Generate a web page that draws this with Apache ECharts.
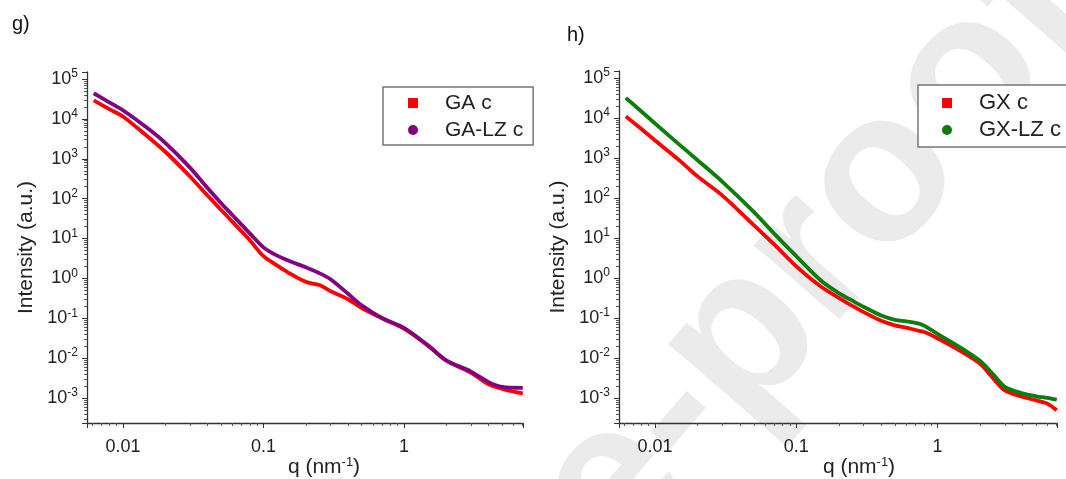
<!DOCTYPE html>
<html>
<head>
<meta charset="utf-8">
<script src="https://cdn.jsdelivr.net/npm/echarts@6/dist/echarts.min.js"></script>
<style>
  html, body { margin: 0; padding: 0; background: #fff; }
  #chart { width: 1066px; height: 479px; }
</style>
</head>
<body>
<div id="chart"></div>
<script>
// panel g) : q (nm^-1) and intensity
const qGA = [0.0062, 0.008, 0.01, 0.015, 0.02, 0.03, 0.04, 0.05, 0.06, 0.07, 0.08, 0.1, 0.12, 0.15, 0.2, 0.25, 0.3, 0.4, 0.5, 0.7, 1, 1.5, 2, 3, 4, 5, 7]
const iGA = [2.9e4, 1.76e4, 1.15e4, 3.6e3, 1.5e3, 360, 120, 52, 26.5, 15, 9, 3.6, 2.3, 1.4, 0.82, 0.68, 0.48, 0.3, 0.18, 0.1, 0.055, 0.02, 0.0086, 0.0043, 0.0022, 0.0017, 0.0013]
const iGALZ = [4.4e4, 2.6e4, 1.65e4, 5.8e3, 2.5e3, 600, 184, 77, 39, 22, 13.5, 6, 4.0, 2.8, 1.9, 1.35, 0.95, 0.41, 0.21, 0.1, 0.057, 0.02, 0.0088, 0.0046, 0.0025, 0.0019, 0.0018]

// panel h)
const qGX = [0.0062, 0.008, 0.01, 0.015, 0.02, 0.03, 0.05, 0.07, 0.1, 0.15, 0.2, 0.25, 0.3, 0.4, 0.5, 0.6, 0.7, 0.8, 1, 1.5, 2, 2.5, 3, 4, 5, 6, 7]
const iGX = [1.1e4, 5.3e3, 2.75e3, 850, 347, 115, 21, 6.8, 1.95, 0.6, 0.32, 0.2, 0.14, 0.085, 0.065, 0.057, 0.05, 0.045, 0.031, 0.014, 0.0072, 0.003, 0.00155, 0.00107, 0.00087, 0.00072, 0.00049]
const iGXLZ = [3.2e4, 1.46e4, 7.3e3, 2.1e3, 880, 254, 45, 12.7, 3.5, 0.85, 0.42, 0.27, 0.19, 0.115, 0.09, 0.082, 0.075, 0.065, 0.04, 0.017, 0.0085, 0.0038, 0.0019, 0.0013, 0.0011, 0.001, 0.0009]

const xRange = [0.00555, 7.03]
const yRange = [2.36e-4, 1.5e5]

const FONT = 'Liberation Sans, Arial, sans-serif'

const pairs = (xs, ys) => xs.map((x, i) => [x, ys[i]])

// only label the decades, with a superscript exponent on y
const isDecade = v => Math.abs(Math.log10(v) - Math.round(Math.log10(v))) < 1e-6
const xLabel = v => (isDecade(v) ? String(+v.toPrecision(3)) : '')
const yLabel = v => (isDecade(v) ? '10{sup|' + Math.round(Math.log10(v)) + '}' : '')

const supStyle = { sup: { fontFamily: FONT, fontSize: 13, fill: '#222', color: '#222', padding: [0, 0, 10, 0] } }

const makeX = idx => ({
  type: 'log',
  gridIndex: idx,
  min: xRange[0],
  max: xRange[1],
  axisLine: { lineStyle: { color: '#333', width: 1.3 } },
  axisTick: { length: 5, lineStyle: { color: '#333' } },
  minorTick: { show: true, splitNumber: 9, length: 3, lineStyle: { color: '#555' } },
  splitLine: { show: false },
  axisLabel: { formatter: xLabel, fontFamily: FONT, fontSize: 18, color: '#222', margin: 15 }
})

const makeY = idx => ({
  type: 'log',
  gridIndex: idx,
  min: yRange[0],
  max: yRange[1],
  name: 'Intensity (a.u.)',
  nameLocation: 'middle',
  nameGap: 50,
  nameTextStyle: { fontFamily: FONT, fontSize: 21, color: '#222' },
  axisLine: { show: true, lineStyle: { color: '#333', width: 1.3 } },
  axisTick: { show: true, length: 5, lineStyle: { color: '#333' } },
  minorTick: { show: true, splitNumber: 9, length: 3, lineStyle: { color: '#555' } },
  splitLine: { show: false },
  axisLabel: {
    formatter: yLabel, fontFamily: FONT, fontSize: 18, color: '#222', margin: 9,
    rich: { sup: { fontFamily: FONT, fontSize: 12, color: '#222', padding: [0, 0, 10, 0] } }
  }
})

const makeSeries = (name, xi, data, color) => ({
  name,
  type: 'line',
  xAxisIndex: xi,
  yAxisIndex: xi,
  data,
  smooth: 0.3,
  showSymbol: false,
  lineStyle: { color, width: 3.8 },
  itemStyle: { color }
})

const makeLegend = (names, icons, left, top, pad, size) => ({
  orient: 'vertical',
  left,
  top,
  padding: pad,
  itemGap: 5,
  itemWidth: 10,
  itemHeight: 10,
  backgroundColor: '#fff',
  borderColor: '#777',
  borderWidth: 1.5,
  data: names.map((n, i) => ({ name: n, icon: icons[i] })),
  textStyle: { fontFamily: FONT, fontSize: size, color: '#222', lineHeight: 22, padding: [0, 0, 0, 22] }
})

// x axis title drawn as text so it sits where the reference puts it
const xTitle = cx => ({
  type: 'text', x: cx, y: 467,
  style: { text: 'q (nm{sup|-1})', fontFamily: FONT, fontSize: 21, fill: '#222', align: 'center', verticalAlign: 'middle', rich: supStyle }
})

const chart = echarts.init(document.getElementById('chart'))

chart.setOption({
  backgroundColor: '#fff',
  animation: false,
  graphic: [
    {
      type: 'text', z: -10, x: 1058, y: -22, rotation: 0.855,
      style: { text: 'Journal Pre-proof', fontFamily: FONT, fontSize: 214, fontWeight: 'bold', fill: '#ebebeb', align: 'right', verticalAlign: 'middle' }
    },
    { type: 'text', left: 12, top: 14, style: { text: 'g)', fontFamily: FONT, fontSize: 20, fill: '#111' } },
    { type: 'text', left: 567, top: 25, style: { text: 'h)', fontFamily: FONT, fontSize: 20, fill: '#111' } },
    xTitle(324),
    xTitle(859)
  ],
  grid: [
    { left: 87, top: 72, width: 436, height: 351, outerBoundsMode: 'none' },
    { left: 619, top: 71, width: 438, height: 352, outerBoundsMode: 'none' }
  ],
  xAxis: [makeX(0), makeX(1)],
  yAxis: [makeY(0), makeY(1)],
  legend: [
    makeLegend(['GA c', 'GA-LZ c'], ['rect', 'circle'], 383, 87, [5, 10, 4, 25], 21),
    makeLegend(['GX c', 'GX-LZ c'], ['rect', 'circle'], 918, 85, [7, 30, 6, 24], 22)
  ],
  series: [
    makeSeries('GA c', 0, pairs(qGA, iGA), '#ff0000'),
    makeSeries('GA-LZ c', 0, pairs(qGA, iGALZ), '#800080'),
    makeSeries('GX c', 1, pairs(qGX, iGX), '#ff0000'),
    makeSeries('GX-LZ c', 1, pairs(qGX, iGXLZ), '#0b7d0b')
  ]
})

window.addEventListener('resize', () => chart.resize())
</script>
</body>
</html>
